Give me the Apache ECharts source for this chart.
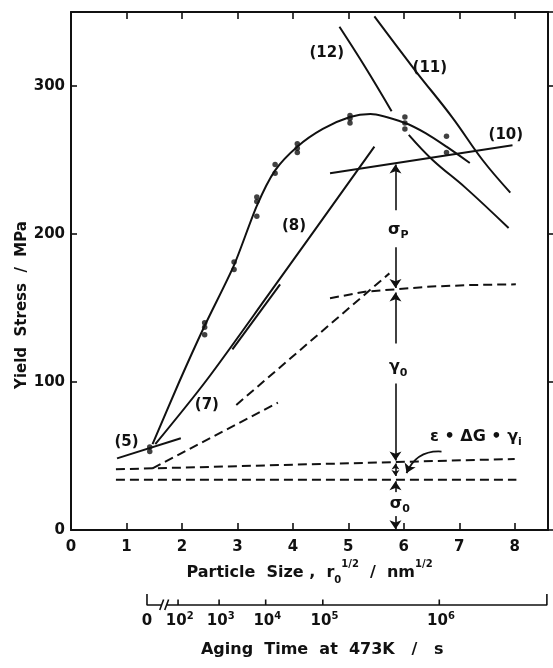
<!DOCTYPE html>
<html>
<head>
<meta charset="utf-8">
<script src="https://cdn.jsdelivr.net/npm/echarts@6/dist/echarts.min.js"></script>
<style>
  html, body { margin: 0; padding: 0; background: #fff; }
  #chart { width: 553px; height: 668px; }
</style>
</head>
<body>
<div id="chart"></div>
<script>
// Yield stress of aged specimens versus particle size, with the model curves.
const xTicks = [0, 1, 2, 3, 4, 5, 6, 7, 8];
const yTicks = [0, 100, 200, 300];

// measured yield stress (MPa) at each particle size (nm^1/2)
const dotX = [1.42, 1.42, 2.41, 2.41, 2.41, 2.94, 2.94, 3.35, 3.35, 3.35, 3.68, 3.68,
              4.08, 4.08, 4.08, 5.03, 5.03, 5.03, 6.02, 6.02, 6.02, 6.77, 6.77];
const dotY = [53, 56, 140, 137, 132, 181, 176, 225, 222, 212, 247, 241,
              261, 258, 255, 280, 278, 275, 279, 275, 271, 266, 255];

// fitted experimental curve
const curveMain = [[1.47, 58], [1.95, 100], [2.41, 138], [2.94, 179], [3.35, 219], [3.68, 243],
                   [4.08, 259], [4.54, 271], [5.03, 279], [5.4, 281], [6.02, 275], [6.4, 268],
                   [6.77, 259], [7.19, 248]];
// model predictions (solid)
const curve5 = [[0.83, 48.4], [1.98, 62]];
const curve8 = [[1.52, 58], [2.44, 101], [3.56, 159], [5.47, 259]];
const curveTangent = [[2.91, 122], [3.77, 166]];
const curve10 = [[4.67, 241], [7.96, 260]];
const curve11 = [[5.47, 347], [6.2, 310.8], [6.87, 279], [7.42, 250], [7.92, 228]];
const curve12 = [[4.84, 340], [5.3, 313], [5.78, 283], [5.93, '-'], [6.09, 267], [6.52, 250],
                 [7.12, 231], [7.89, 204]];
// model components (dashed)
const dash7 = [[1.47, 41.7], [3.73, 86]];
const dashRise = [[2.98, 84.5], [5.74, 173.4]];
const dashPlateau = [[4.67, 156.6], [5.3, 161], [5.84, 162.6], [6.5, 164.5], [7.2, 165.5], [8.02, 166]];
const dashUpper = [[0.81, 41], [8.0, 48]];
const dashLower = [[0.81, 34], [8.03, 34]];

// component arrows at r0^1/2 = 5.85
const arrowFrom = [[5.85, 216], [5.85, 191], [5.85, 126], [5.85, 99], [5.85, 24], [5.85, 11]];
const arrowTo   = [[5.85, 247], [5.85, 163.5], [5.85, 160.5], [5.85, 47], [5.85, 33], [5.85, 0.5]];
const doubleArrow = [[5.85, 36.5], [5.85, 45]];
const bentArrow = [[6.68, 53], [6.05, 38.5]];

// curve tags
const tagText = ['(5)', '(7)', '(8)', '(10)', '(11)', '(12)'];
const tagX = [1.0, 2.45, 4.02, 7.84, 6.47, 4.61];
const tagY = [59.7, 84.5, 205, 267, 312, 322];

// stress component symbols
const symText = ['{m|σ}{s|P}', '{m|γ}{s|0}', '{m|σ}{s|0}', '{m|ε • ΔG • γ}{s|i}'];
const symX = [5.9, 5.9, 5.93, 7.3];
const symY = [202.7, 110, 17.5, 63];

// aging time scale (473 K), placed along the particle-size scale
const agingLabels = ['{b|0}', '{b|10}{p|2}', '{b|10}{p|3}', '{b|10}{p|4}', '{b|10}{p|5}', '{b|10}{p|6}'];
const agingPos = [1.37, 1.96, 2.7, 3.54, 4.57, 6.67];
const agingTickPos = [1.93, 2.67, 3.51, 4.54, 6.64];
const agingEnd = 8.58;

const INK = '#111111';
const FONT = '"DejaVu Sans", "Liberation Sans", sans-serif';

function solid(data, extra) {
  return Object.assign({
    type: 'line', data: data, showSymbol: false, symbol: 'none', silent: true,
    lineStyle: { color: INK, width: 2 }, xAxisIndex: 0, yAxisIndex: 0, z: 3
  }, extra || {});
}
function dashed(data) {
  return solid(data, { lineStyle: { color: INK, width: 2, type: [9, 5] } });
}
function textSeries(names, xs, ys, axis, labelExtra) {
  return {
    type: 'scatter', xAxisIndex: axis, yAxisIndex: axis, silent: true, z: 6,
    symbolSize: 0, itemStyle: { color: INK, opacity: 1 },
    label: Object.assign({
      show: true, position: 'inside', color: INK, opacity: 1,
      fontSize: 15, fontWeight: 'bold', fontFamily: FONT,
      formatter: function (p) { return p.name; }
    }, labelExtra || {}),
    data: names.map(function (t, i) { return { name: t, value: [xs[i], ys[i]] }; })
  };
}

// aging-axis baseline, end caps, break marks and ticks
const agingLine = [[agingPos[0], 1], [agingPos[0], 0], [1.63, 0], [1.64, '-'],
                   [1.60, -0.45], [1.67, 0.5], [1.68, '-'],
                   [1.69, -0.45], [1.76, 0.5], [1.77, '-'],
                   [1.73, 0], [agingEnd, 0], [agingEnd, 1]];
agingTickPos.forEach(function (p) {
  agingLine.push([p, '-'], [p, 0], [p, 0.5]);
});

const chart = echarts.init(document.getElementById('chart'), null, { renderer: 'canvas' });

const option = {
  backgroundColor: '#fff',
  animation: false,
  textStyle: { fontFamily: FONT },
  grid: [
    { left: 71, right: 5, top: 12, bottom: 138, show: false },
    { left: 71, right: 5, top: 594, height: 66, show: false }
  ],
  xAxis: [
    {
      type: 'value', gridIndex: 0, min: 0, max: 8.6, interval: 1, position: 'bottom',
      axisLine: { show: true, onZero: false, lineStyle: { color: INK, width: 2 } },
      axisTick: { show: true, inside: true, length: 7, lineStyle: { color: INK, width: 1.6 } },
      axisLabel: {
        color: INK, fontSize: 15, fontWeight: 'bold', margin: 10, showMaxLabel: false,
        formatter: function (v) { return xTicks.indexOf(v) >= 0 ? String(v) : ''; }
      },
      splitLine: { show: false },
      name: '{t|Particle  Size ,  r}{sub|0}{sup|1/2}{t|  /  nm}{sup|1/2}',
      nameLocation: 'middle', nameGap: 29,
      nameTextStyle: {
        color: INK,
        rich: {
          t: { fontSize: 16, fontWeight: 'bold', lineHeight: 26, color: INK, fontFamily: FONT },
          sup: { fontSize: 10, fontWeight: 'bold', lineHeight: 12, verticalAlign: 'top', color: INK, fontFamily: FONT },
          sub: { fontSize: 10, fontWeight: 'bold', lineHeight: 12, verticalAlign: 'bottom', color: INK, fontFamily: FONT }
        }
      }
    },
    {
      type: 'value', gridIndex: 0, min: 0, max: 8.6, interval: 1, position: 'top',
      axisLine: { show: true, onZero: false, lineStyle: { color: INK, width: 2 } },
      axisTick: { show: true, inside: true, length: 7, lineStyle: { color: INK, width: 1.6 } },
      axisLabel: { show: false }, splitLine: { show: false }
    },
    { type: 'value', gridIndex: 1, min: 0, max: 8.6, show: false }
  ],
  yAxis: [
    {
      type: 'value', gridIndex: 0, min: 0, max: 350, interval: 100, position: 'left',
      axisLine: { show: true, onZero: false, lineStyle: { color: INK, width: 2 } },
      axisTick: { show: true, inside: true, length: 6, lineStyle: { color: INK, width: 1.6 } },
      axisLabel: {
        color: INK, fontSize: 15, fontWeight: 'bold', margin: 6, showMaxLabel: false,
        formatter: function (v) { return yTicks.indexOf(v) >= 0 ? String(v) : ''; }
      },
      splitLine: { show: false }
    },
    {
      type: 'value', gridIndex: 0, min: 0, max: 350, interval: 100, position: 'right',
      axisLine: { show: true, onZero: false, lineStyle: { color: INK, width: 2 } },
      axisTick: { show: true, inside: false, length: 6, lineStyle: { color: INK, width: 1.6 } },
      axisLabel: { show: false }, splitLine: { show: false }
    },
    { type: 'value', gridIndex: 1, min: -5, max: 1, show: false }
  ],
  graphic: [
    {
      type: 'text', x: 22, y: 305, rotation: Math.PI / 2,
      style: {
        text: 'Yield  Stress  /  MPa', fill: INK,
        font: 'bold 15px ' + FONT,
        textAlign: 'center', textVerticalAlign: 'middle', align: 'center', verticalAlign: 'middle'
      }
    }
  ],
  series: [
    solid(curveMain, { smooth: 0.25 }),
    solid(curve5),
    solid(curve8, { smooth: 0.3 }),
    solid(curveTangent),
    solid(curve10),
    solid(curve11, { smooth: 0.4 }),
    solid(curve12, { smooth: 0.4, connectNulls: false }),
    dashed(dash7),
    dashed(dashRise),
    dashed(dashPlateau),
    dashed(dashUpper),
    dashed(dashLower),
    {
      type: 'scatter', xAxisIndex: 0, yAxisIndex: 0, silent: true, z: 5,
      symbolSize: 5.5, itemStyle: { color: INK },
      data: dotX.map(function (x, i) { return [x, dotY[i]]; })
    },
    {
      type: 'lines', coordinateSystem: 'cartesian2d', xAxisIndex: 0, yAxisIndex: 0, silent: true, z: 4,
      symbol: ['none', 'arrow'], symbolSize: [7, 9],
      lineStyle: { color: INK, width: 1.6, opacity: 1, curveness: 0 },
      data: arrowFrom.map(function (f, i) { return { coords: [f, arrowTo[i]] }; })
    },
    {
      type: 'lines', coordinateSystem: 'cartesian2d', xAxisIndex: 0, yAxisIndex: 0, silent: true, z: 4,
      symbol: ['arrow', 'arrow'], symbolSize: [6, 6],
      lineStyle: { color: INK, width: 1.6, opacity: 1, curveness: 0 },
      data: [{ coords: doubleArrow }]
    },
    {
      type: 'lines', coordinateSystem: 'cartesian2d', xAxisIndex: 0, yAxisIndex: 0, silent: true, z: 4,
      symbol: ['none', 'arrow'], symbolSize: [7, 9],
      lineStyle: { color: INK, width: 1.8, opacity: 1, curveness: -0.35 },
      data: [{ coords: bentArrow }]
    },
    textSeries(tagText, tagX, tagY, 0),
    textSeries(symText, symX, symY, 0, {
      backgroundColor: '#fff', padding: [1, 1],
      rich: {
        m: { fontSize: 16, fontWeight: 'bold', color: INK, fontFamily: FONT, lineHeight: 22 },
        s: { fontSize: 11, fontWeight: 'bold', color: INK, fontFamily: FONT, lineHeight: 12, verticalAlign: 'bottom' }
      }
    }),
    {
      type: 'line', xAxisIndex: 2, yAxisIndex: 2, silent: true, showSymbol: false, symbol: 'none',
      connectNulls: false, lineStyle: { color: INK, width: 1.6 },
      data: agingLine
    },
    textSeries(agingLabels, agingPos, agingPos.map(function () { return -1.5; }), 2, {
      rich: {
        b: { fontSize: 15, fontWeight: 'bold', color: INK, fontFamily: FONT, lineHeight: 20 },
        p: { fontSize: 10, fontWeight: 'bold', color: INK, fontFamily: FONT, lineHeight: 10, verticalAlign: 'top' }
      }
    }),
    textSeries(['Aging  Time  at  473K   /   s'], [4.53], [-4.1], 2, { fontSize: 16 })
  ]
};

chart.setOption(option);
</script>
</body>
</html>
